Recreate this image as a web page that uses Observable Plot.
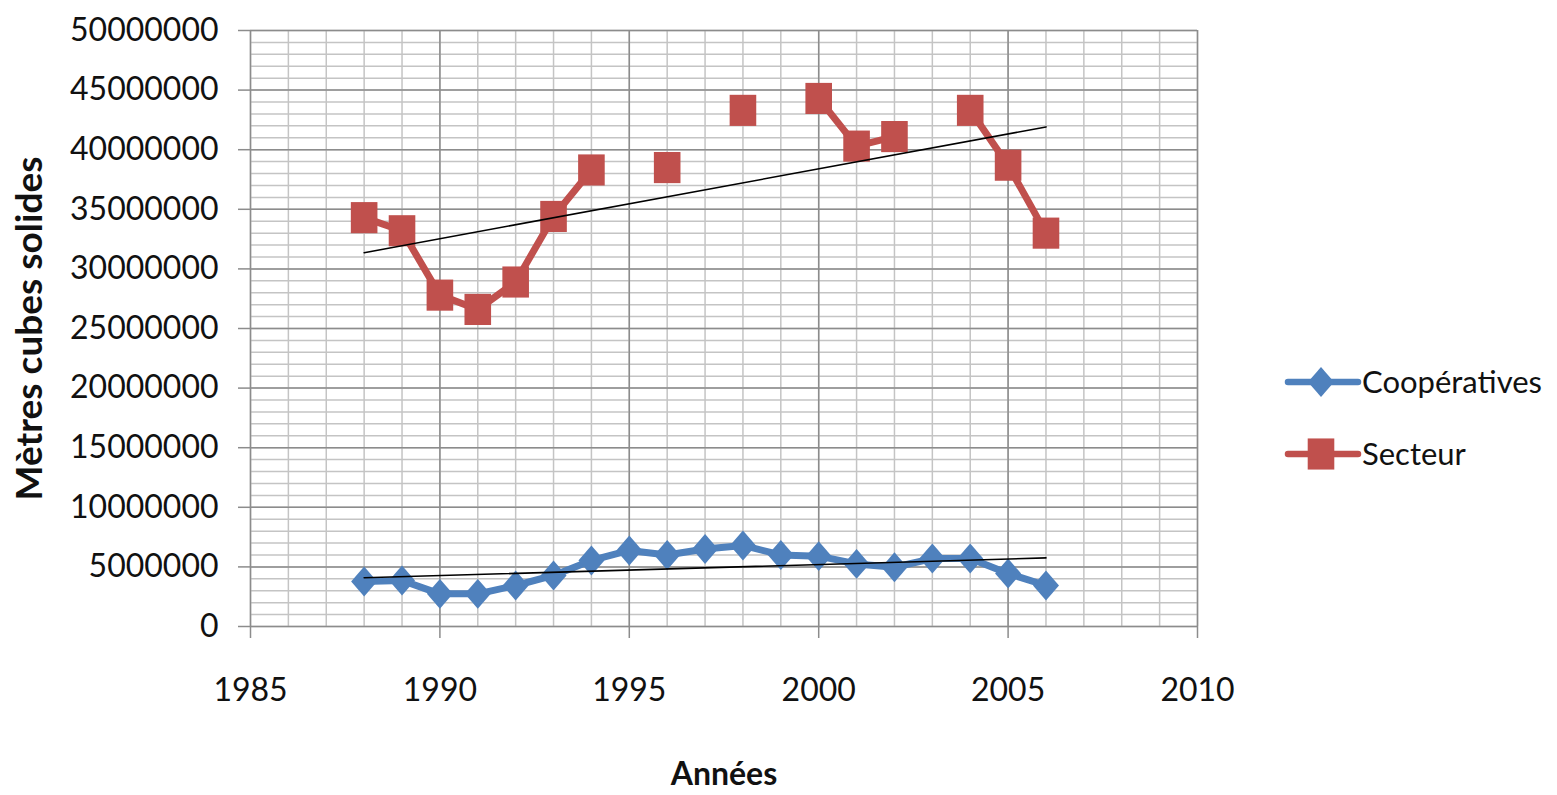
<!DOCTYPE html>
<html>
<head>
<meta charset="utf-8">
<script src="https://cdn.jsdelivr.net/npm/d3@7"></script>
<script src="https://cdn.jsdelivr.net/npm/@observablehq/plot@0.6"></script>
<style>
  html, body { margin: 0; padding: 0; background: #fff; }
  #wrap { position: relative; width: 1557px; height: 795px; overflow: hidden; font-family: Lato, "Open Sans", sans-serif; }
  #legend { position: absolute; left: 1280px; top: 340px; }
</style>
</head>
<body>
<div id="wrap"></div>
<script>
// ---- data ----
const years = [1988, 1989, 1990, 1991, 1992, 1993, 1994, 1995, 1996, 1997, 1998, 1999, 2000, 2001, 2002, 2003, 2004, 2005, 2006];
const cooperatives = [3780000, 3860000, 2740000, 2740000, 3440000, 4280000, 5540000, 6380000, 6000000, 6500000, 6800000, 6000000, 5900000, 5250000, 4970000, 5700000, 5700000, 4450000, 3440000];
const secteur = [34300000, 33200000, 27800000, 26600000, 28900000, 34400000, 38300000, null, 38500000, null, 43300000, null, 44300000, 40300000, 41100000, null, 43300000, 38700000, 33000000];
const seriesNames = ["Coopératives", "Secteur"];
const seriesColors = ["#4F81BD", "#C0504D"];
const xTicks = [1985, 1990, 1995, 2000, 2005, 2010];
const yTicks = [0, 5000000, 10000000, 15000000, 20000000, 25000000, 30000000, 35000000, 40000000, 45000000, 50000000];
const xTitle = "Années";
const yTitle = "Mètres cubes solides";

// ---- build table ----
const coopData = years.map((year, i) => ({year, value: cooperatives[i], series: seriesNames[0]}));
const sectData = years.map((year, i) => ({year, value: secteur[i], series: seriesNames[1]}));
const coopFit = coopData.filter(d => d.value != null);
const sectFit = sectData.filter(d => d.value != null);

// custom marker shapes (Excel-like: slightly tall square and diamond)
const squareSym = {draw(ctx, size) { const r = Math.sqrt(size / Math.PI); const h = r * 1.17; ctx.moveTo(-r, -h); ctx.lineTo(r, -h); ctx.lineTo(r, h); ctx.lineTo(-r, h); ctx.closePath(); }};
const diamondSym = {draw(ctx, size) { const r = Math.sqrt(size / Math.PI); const h = r * 1.15; ctx.moveTo(0, -h); ctx.lineTo(r, 0); ctx.lineTo(0, h); ctx.lineTo(-r, 0); ctx.closePath(); }};

const minorX = d3.range(xTicks[0], xTicks[xTicks.length - 1] + 1, 1);
const minorY = d3.range(yTicks[0], yTicks[yTicks.length - 1] + 1, 1000000);

const chart = Plot.plot({
  width: 1557,
  height: 795,
  marginLeft: 250,
  marginRight: 360,
  marginTop: 30,
  marginBottom: 169,
  style: {fontFamily: "Lato, 'Open Sans', sans-serif", fontSize: "32px", color: "#000", background: "transparent", overflow: "visible"},
  x: {domain: [xTicks[0], xTicks[xTicks.length - 1]]},
  y: {domain: [yTicks[0], yTicks[yTicks.length - 1]]},
  marks: [
    Plot.gridX({ticks: minorX, stroke: "#c4c4c4", strokeOpacity: 1, strokeWidth: 1.5}),
    Plot.gridY({ticks: minorY, stroke: "#c4c4c4", strokeOpacity: 1, strokeWidth: 1.5}),
    Plot.gridX({ticks: xTicks, stroke: "#8c8c8c", strokeOpacity: 1, strokeWidth: 1.5}),
    Plot.gridY({ticks: yTicks, stroke: "#8c8c8c", strokeOpacity: 1, strokeWidth: 1.5}),
    Plot.axisX({ticks: xTicks, tickFormat: d => String(d), tickSize: 12, tickPadding: 40, stroke: "#8c8c8c", strokeWidth: 1.5, fill: "#111", fontSize: 32, label: null}),
    Plot.axisY({ticks: yTicks, tickFormat: d => String(d), tickSize: 12, tickPadding: 20, stroke: "#8c8c8c", strokeWidth: 1.5, fill: "#111", fontSize: 32, label: null}),
    Plot.line(coopData, {x: "year", y: "value", stroke: seriesColors[0], strokeWidth: 7, strokeLinejoin: "round"}),
    Plot.line(sectData, {x: "year", y: "value", stroke: seriesColors[1], strokeWidth: 7, strokeLinejoin: "round"}),
    Plot.dot(coopFit, {x: "year", y: "value", symbol: diamondSym, r: 13, fill: seriesColors[0], stroke: "none"}),
    Plot.dot(sectFit, {x: "year", y: "value", symbol: squareSym, r: 13.3, fill: seriesColors[1], stroke: "none"}),
    Plot.linearRegressionY(coopFit, {x: "year", y: "value", ci: 0, stroke: "#000", strokeWidth: 1.6}),
    Plot.linearRegressionY(sectFit, {x: "year", y: "value", ci: 0, stroke: "#000", strokeWidth: 1.6}),
    Plot.text([xTitle], {frameAnchor: "bottom", dy: 136, lineAnchor: "top", textAnchor: "middle", fontWeight: "bold", fontSize: 32, fill: "#111"}),
    Plot.text([yTitle], {frameAnchor: "left", dx: -235, rotate: -90, lineAnchor: "top", textAnchor: "middle", fontWeight: "bold", fontSize: 37, fill: "#111"})
  ]
});
document.getElementById("wrap").appendChild(chart);

// ---- legend ----
const legend = d3.select("#wrap").append("svg").attr("id", "legend").attr("width", 277).attr("height", 150)
  .style("font-family", "Lato, 'Open Sans', sans-serif");
const legendSymbols = [diamondSym, squareSym];
const legendSizes = [13, 13.3];
seriesNames.forEach((name, i) => {
  const g = legend.append("g").attr("transform", `translate(0, ${42 + i * 72})`);
  g.append("line").attr("x1", 8).attr("x2", 78).attr("y1", 0).attr("y2", 0)
    .attr("stroke", seriesColors[i]).attr("stroke-width", 6.5).attr("stroke-linecap", "round");
  g.append("path").attr("transform", "translate(41,0)")
    .attr("d", d3.symbol(legendSymbols[i], Math.PI * legendSizes[i] * legendSizes[i])())
    .attr("fill", seriesColors[i]);
  g.append("text").attr("x", 82).attr("y", 0).attr("dy", "0.36em")
    .attr("font-size", 31).attr("fill", "#111").text(name);
});
</script>
</body>
</html>
